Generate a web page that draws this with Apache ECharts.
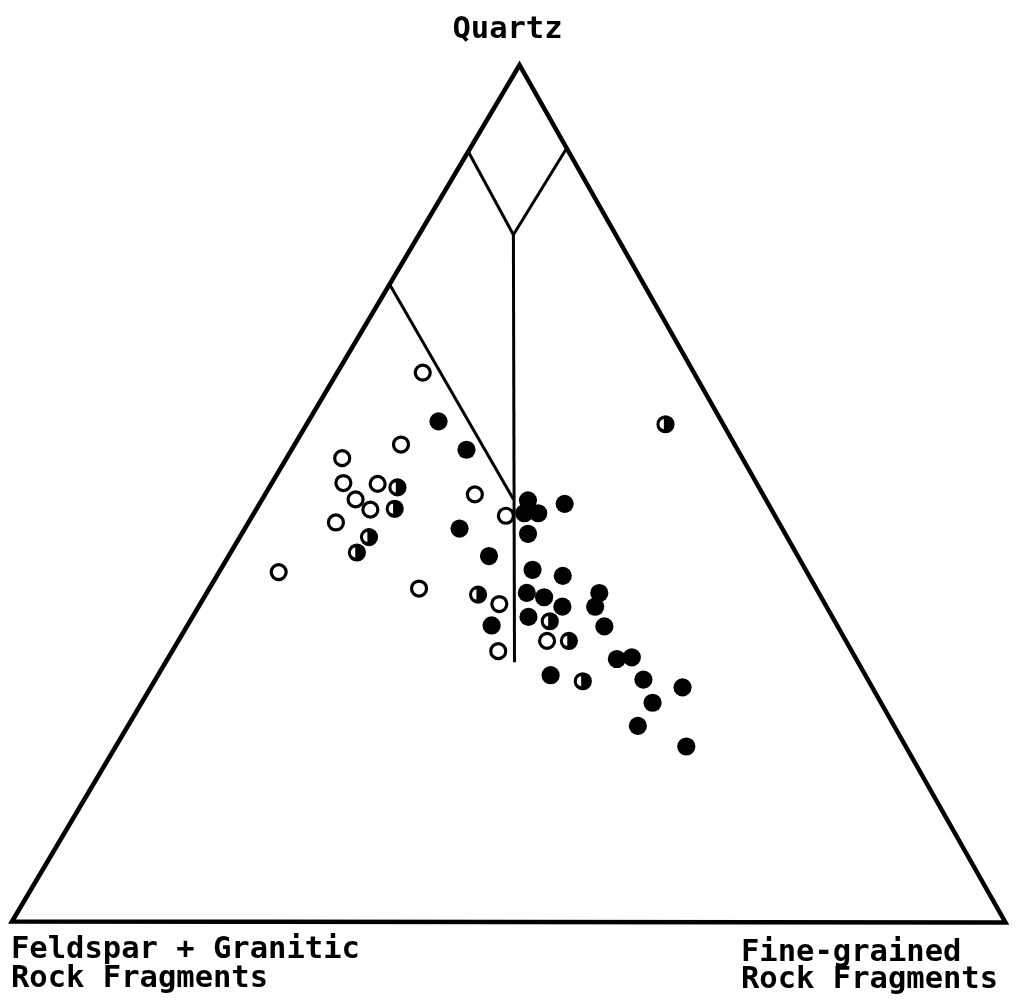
<!DOCTYPE html>
<html>
<head>
<meta charset="utf-8">
<script src="https://cdn.jsdelivr.net/npm/echarts@6/dist/echarts.min.js"></script>
<style>
html,body{margin:0;padding:0;background:#fff;}
#chart{width:1018px;height:1007px;}
</style>
</head>
<body>
<div id="chart"></div>
<script>
// Ternary compositions, percent: [Feldspar+Granitic RF, Quartz, Fine-grained RF]
const openSamples = [
  [27.3,64.1,8.6],[33.6,55.7,10.7],[40.3,54.1,5.6],[41.6,51.2,7.2],[38.2,51.1,10.7],
  [41.3,49.3,9.4],[40.4,48.1,11.5],[44.6,46.6,8.8],[53.2,40.8,6.0],[40.0,38.9,21.1],
  [29.0,49.9,21.1],[27.1,47.4,25.5],[32.8,37.1,30.1],[30.1,32.8,37.1],[35.6,31.6,32.8]
];
const halfSamples = [
  [36.4,50.7,12.9],[37.9,48.2,13.9],[42.1,44.9,13.0],[44.2,43.1,12.7],[34.4,38.2,27.4],
  [28.7,35.1,36.2],[27.9,32.8,39.3],[28.8,28.1,43.1],[5.8,58.1,36.1]
];
const filledSamples = [
  [28.5,58.4,13.1],[27.3,55.1,17.6],[32.5,45.9,21.6],[24.0,49.2,26.8],[25.1,47.7,27.2],
  [23.7,47.7,28.6],[20.5,48.8,30.7],[25.9,45.3,28.8],[31.1,42.7,26.2],[27.5,41.1,31.4],
  [24.8,40.4,34.8],[29.4,38.4,32.2],[27.9,37.9,34.2],[26.6,36.8,36.6],[22.1,38.4,39.5],
  [23.3,36.8,39.9],[30.6,35.6,33.8],[34.8,34.6,30.6],[23.5,34.5,42.0],[24.1,30.7,45.2],
  [22.5,30.9,46.6],[31.7,28.8,39.5],[22.6,28.3,49.1],[19.1,27.4,53.5],[23.0,25.6,51.4],
  [25.8,22.9,51.3],[22.1,20.5,57.4]
];
// Field boundaries (ternary end points)
const boundaryLines = [
  [[10.1,89.9,0],[10.3,80.2,9.5]],
  [[0,90.3,9.7],[10.3,80.2,9.5]],
  [[10.3,80.2,9.5],[34.6,30.3,35.1]],
  [[25.6,74.4,0],[25.4,49.3,25.3]]
];
const corners = [[100,0,0],[0,100,0],[0,0,100]];
const labels = ['Quartz','Feldspar + Granitic','Rock Fragments','Fine-grained','Rock Fragments'];

// layout: vertex positions of the triangle in axis units
const VF = [12,921.5], VQ = [519.5,65], VL = [1005.5,922.5];
function toXY(t){
  const s = t[0]+t[1]+t[2];
  const f=t[0]/s, q=t[1]/s, l=t[2]/s;
  return [VF[0]*f+VQ[0]*q+VL[0]*l, VF[1]*f+VQ[1]*q+VL[1]*l];
}

const halfSymbol = 'path://M0,-1A1,1,0,1,1,0,1A1,1,0,1,1,0,-1ZM-0.18,0.55L-0.18,-0.55A0.48,0.55,0,0,0,-0.18,0.55Z';

const chart = echarts.init(document.getElementById('chart'), null, {renderer:'canvas'});
const font = 'bold 30.5px "DejaVu Sans Mono"';
function txt(s,x,y,align){
  return {type:'text', x:x, y:y, silent:true, z:10,
    style:{text:s, font:font, fill:'#000', align:align, textAlign:align, verticalAlign:'middle', textVerticalAlign:'middle'}};
}

const series = [
  {
    type:'custom', silent:true, clip:false, z:1,
    data:[[0,0]],
    renderItem:function(params, api){
      return {type:'polygon',
        shape:{points: corners.map(c=>api.coord(toXY(c)))},
        style:{fill:'none', stroke:'#000', lineWidth:4.5, lineJoin:'miter', miterLimit:10}};
    }
  }
];
boundaryLines.forEach(seg=>{
  series.push({type:'line', silent:true, z:2, symbol:'none', animation:false,
    data: seg.map(toXY), lineStyle:{color:'#000', width:3, cap:'butt'}});
});
series.push({type:'scatter', z:5, animation:false, symbol:'circle', symbolSize:15,
  itemStyle:{color:'#fff', borderColor:'#000', borderWidth:3.2, opacity:1},
  data: openSamples.map(toXY)});
series.push({type:'scatter', z:5, animation:false, symbol:halfSymbol, symbolSize:18.2,
  itemStyle:{color:'#000', opacity:1},
  data: halfSamples.map(toXY)});
series.push({type:'scatter', z:5, animation:false, symbol:'circle', symbolSize:18.2,
  itemStyle:{color:'#000', opacity:1},
  data: filledSamples.map(toXY)});

chart.setOption({
  backgroundColor:'#fff',
  animation:false,
  grid:{left:0, top:0, width:1018, height:1007, containLabel:false},
  xAxis:{type:'value', min:0, max:1018, show:false},
  yAxis:{type:'value', min:0, max:1007, inverse:true, show:false},
  graphic:[
    txt(labels[0], 507.5, 30, 'center'),
    txt(labels[1], 11, 950.5, 'left'),
    txt(labels[2], 11, 979.5, 'left'),
    txt(labels[3], 741, 953, 'left'),
    txt(labels[4], 741, 980.5, 'left')
  ],
  series: series
});
</script>
</body>
</html>
